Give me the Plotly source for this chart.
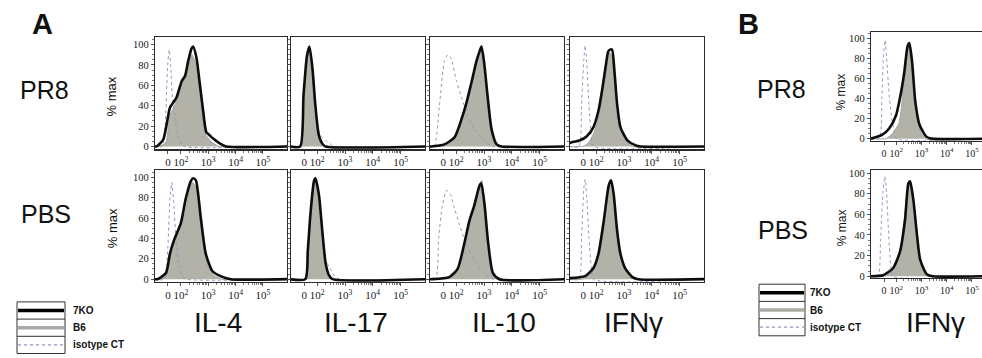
import plotly.graph_objects as go

W, H = 982, 358

# ---------------- data (x in display decades: 2 = 10^2, 3 = 10^3 ...; y = % max) ----------------
tick_vals_a = [1.53, 2, 3, 4, 5]
tick_vals_b = [1.52, 2, 3, 4, 5]
tick_text = ["0", "10<sup>2</sup>", "10<sup>3</sup>", "10<sup>4</sup>", "10<sup>5</sup>"]
y_ticks = [0, 20, 40, 60, 80, 100]
markers = ["IL-4", "IL-17", "IL-10", "IFNγ"]
groups = ["PR8", "PBS"]
legend_names = ["7KO", "B6", "isotype CT"]

# IL-4 PR8
il4_pr8_ko_x = [1.0, 1.12, 1.36, 1.6, 1.72, 1.84, 2.03, 2.15, 2.27, 2.39, 2.45, 2.57, 2.69, 2.81, 2.93, 3.05, 3.17, 3.42, 3.66, 5.9]
il4_pr8_ko_y = [0, 0, 7, 38, 43, 48, 64, 69, 84, 96, 98, 87, 62, 36, 14, 11, 8, 3, 0, 0]
il4_pr8_b6_x = [1.0, 1.2, 1.45, 1.6, 1.8, 2.0, 2.2, 2.3, 2.4, 2.5, 2.6, 2.7, 2.8, 2.9, 3.1, 3.4, 5.9]
il4_pr8_b6_y = [0, 0, 4, 30, 42, 58, 70, 80, 90, 85, 70, 50, 28, 12, 5, 0, 0]
il4_pr8_iso_x = [1.0, 1.3, 1.42, 1.52, 1.575, 1.63, 1.7, 1.8, 1.9, 2.0, 2.1, 5.9]
il4_pr8_iso_y = [0, 0, 20, 80, 95, 78, 45, 25, 10, 3, 0, 0]

# IL-4 PBS
il4_pbs_ko_x = [1.0, 1.15, 1.455, 1.6, 1.76, 2.0, 2.18, 2.36, 2.45, 2.55, 2.73, 2.91, 3.15, 3.45, 3.82, 5.9]
il4_pbs_ko_y = [0, 0, 6, 25, 39, 55, 79, 96, 99, 97, 60, 25, 8, 3, 0, 0]
il4_pbs_b6_x = [1.0, 1.2, 1.45, 1.6, 1.8, 2.0, 2.15, 2.3, 2.42, 2.55, 2.7, 2.85, 3.0, 3.2, 3.5, 5.9]
il4_pbs_b6_y = [0, 0, 3, 20, 38, 55, 65, 85, 95, 90, 60, 30, 12, 4, 0, 0]
il4_pbs_iso_x = [1.0, 1.4, 1.52, 1.6, 1.67, 1.74, 1.82, 1.92, 2.05, 2.2, 5.9]
il4_pbs_iso_y = [0, 0, 30, 80, 95, 75, 40, 15, 3, 0, 0]

# IL-17 PR8
il17_pr8_ko_x = [1.0, 1.385, 1.505, 1.63, 1.72, 1.83, 1.93, 2.05, 2.175, 2.3, 5.9]
il17_pr8_ko_y = [0, 0, 50, 89, 98, 76, 41, 12, 3, 0, 0]
il17_pr8_b6_x = [1.0, 1.4, 1.51, 1.63, 1.71, 1.81, 1.93, 2.03, 2.13, 2.23, 5.9]
il17_pr8_b6_y = [0, 0, 45, 85, 95, 75, 38, 12, 3, 0, 0]
il17_pr8_iso_x = [1.0, 1.4, 1.51, 1.63, 1.72, 1.83, 1.93, 2.03, 2.11, 2.3, 2.45, 2.6, 5.9]
il17_pr8_iso_y = [0, 0, 45, 86, 96, 72, 38, 18, 11, 6, 3, 0, 0]

# IL-17 PBS
il17_pbs_ko_x = [1.0, 1.57, 1.66, 1.755, 1.88, 1.935, 2.06, 2.18, 2.30, 2.42, 2.55, 5.9]
il17_pbs_ko_y = [0, 0, 28, 64, 96, 99, 83, 48, 16, 4, 0, 0]
il17_pbs_b6_x = [1.0, 1.59, 1.68, 1.77, 1.88, 1.93, 2.05, 2.17, 2.28, 2.4, 2.52, 5.9]
il17_pbs_b6_y = [0, 0, 25, 62, 93, 96, 80, 45, 14, 3, 0, 0]
il17_pbs_iso_x = [1.0, 1.57, 1.66, 1.755, 1.88, 1.935, 2.06, 2.18, 2.3, 2.42, 2.55, 2.66, 2.8, 5.9]
il17_pbs_iso_y = [0, 0, 28, 64, 96, 99, 83, 48, 18, 13, 6, 2, 0, 0]

# IL-10 PR8
il10_pr8_ko_x = [1.0, 1.09, 1.575, 1.94, 2.18, 2.36, 2.55, 2.73, 2.85, 2.91, 3.01, 3.13, 3.27, 3.455, 3.64, 5.9]
il10_pr8_ko_y = [0, 0, 2, 9, 26, 42, 63, 84, 94, 98, 81, 49, 17, 2, 0, 0]
il10_pr8_b6_x = [1.0, 1.3, 1.6, 1.94, 2.1, 2.3, 2.5, 2.7, 2.85, 2.92, 3.0, 3.12, 3.25, 3.4, 3.55, 5.9]
il10_pr8_b6_y = [0, 0, 2, 8, 14, 35, 58, 80, 92, 96, 82, 50, 18, 4, 0, 0]
il10_pr8_iso_x = [1.0, 1.21, 1.39, 1.575, 1.70, 1.82, 2.0, 2.18, 2.3, 2.5, 2.7, 2.9, 3.1, 3.3, 5.9]
il10_pr8_iso_y = [0, 0, 39, 84, 90, 86, 65, 49, 39, 25, 15, 8, 3, 0, 0]

# IL-10 PBS
il10_pbs_ko_x = [1.0, 1.14, 1.745, 2.05, 2.29, 2.47, 2.655, 2.84, 2.90, 3.02, 3.14, 3.32, 3.565, 5.9]
il10_pbs_ko_y = [0, 0, 2, 10, 35, 57, 73, 92, 94, 73, 38, 6, 0, 0]
il10_pbs_b6_x = [1.0, 1.3, 1.75, 2.1, 2.3, 2.5, 2.7, 2.85, 2.92, 3.02, 3.15, 3.3, 3.45, 5.9]
il10_pbs_b6_y = [0, 0, 2, 8, 30, 55, 75, 93, 97, 75, 38, 8, 0, 0]
il10_pbs_iso_x = [1.0, 1.26, 1.37, 1.5, 1.65, 1.78, 1.93, 2.11, 2.35, 2.59, 2.84, 3.14, 3.35, 5.9]
il10_pbs_iso_y = [0, 0, 41, 72, 87, 84, 70, 54, 35, 22, 11, 3, 0, 0]

# IFNg PR8 (A)
ifng_pr8_ko_x = [1.0, 1.12, 1.42, 1.66, 1.90, 2.08, 2.21, 2.33, 2.43, 2.5, 2.57, 2.655, 2.75, 2.87, 3.12, 3.42, 3.6, 5.9]
ifng_pr8_ko_y = [3, 4, 6, 10, 19, 35, 55, 77, 93, 95, 95, 74, 42, 19, 6, 1, 0, 0]
ifng_pr8_b6_x = [1.0, 1.5, 1.7, 1.9, 2.1, 2.25, 2.4, 2.5, 2.6, 2.7, 2.8, 2.95, 3.1, 3.3, 5.9]
ifng_pr8_b6_y = [0, 0, 3, 12, 30, 55, 82, 92, 85, 55, 30, 12, 5, 0, 0]
ifng_pr8_iso_x = [1.0, 1.38, 1.47, 1.55, 1.6, 1.66, 1.74, 1.82, 1.9, 5.9]
ifng_pr8_iso_y = [0, 0, 40, 85, 99, 80, 40, 10, 0, 0]

# IFNg PBS (A)
ifng_pbs_ko_x = [1.0, 1.055, 1.6, 1.90, 2.08, 2.27, 2.45, 2.535, 2.63, 2.75, 2.87, 3.055, 3.30, 3.5, 5.9]
ifng_pbs_ko_y = [1, 1, 3, 11, 25, 57, 92, 97, 83, 48, 25, 10, 2, 0, 0]
ifng_pbs_b6_x = [1.0, 1.5, 1.7, 1.9, 2.1, 2.27, 2.45, 2.52, 2.62, 2.75, 2.87, 3.0, 3.2, 3.4, 5.9]
ifng_pbs_b6_y = [0, 0, 3, 9, 22, 55, 90, 95, 82, 46, 22, 10, 2, 0, 0]
ifng_pbs_iso_x = [1.0, 1.38, 1.47, 1.55, 1.6, 1.66, 1.74, 1.82, 1.9, 5.9]
ifng_pbs_iso_y = [0, 0, 40, 88, 98, 80, 40, 12, 0, 0]

# IFNg PR8 (B)
b_pr8_ko_x = [1.0, 1.455, 1.72, 1.99, 2.19, 2.32, 2.45, 2.52, 2.63, 2.76, 2.92, 3.19, 3.4, 5.5]
b_pr8_ko_y = [0, 4, 10, 23, 46, 66, 92, 95, 76, 36, 14, 2, 0, 0]
b_pr8_b6_x = [1.0, 1.6, 1.85, 2.1, 2.2, 2.3, 2.4, 2.5, 2.6, 2.7, 2.8, 2.95, 3.15, 5.5]
b_pr8_b6_y = [0, 0, 5, 15, 30, 60, 85, 93, 80, 50, 25, 8, 0, 0]
b_pr8_iso_x = [1.0, 1.33, 1.43, 1.5, 1.56, 1.62, 1.7, 1.8, 1.9, 2.0, 5.5]
b_pr8_iso_y = [0, 0, 40, 85, 98, 80, 50, 25, 8, 0, 0]

# IFNg PBS (B)
b_pbs_ko_x = [1.0, 1.48, 1.88, 2.15, 2.35, 2.48, 2.55, 2.68, 2.81, 2.95, 3.21, 3.45, 5.5]
b_pbs_ko_y = [0, 1, 8, 24, 55, 90, 92, 74, 43, 16, 2, 0, 0]
b_pbs_b6_x = [1.0, 1.5, 1.8, 2.1, 2.3, 2.45, 2.55, 2.68, 2.8, 2.95, 3.2, 3.4, 5.5]
b_pbs_b6_y = [0, 0, 4, 18, 50, 85, 90, 72, 42, 15, 2, 0, 0]
b_pbs_iso_x = [1.0, 1.28, 1.38, 1.47, 1.55, 1.62, 1.7, 1.78, 1.85, 5.5]
b_pbs_iso_y = [0, 0, 35, 80, 97, 80, 40, 10, 0, 0]

# ---------------- layout helpers ----------------
def px(x):
    return x / W

def py(y):
    return 1 - y / H

COL_A = [(155, 287), (291, 425), (430, 564), (570, 704)]
ROW_A = [(36, 150), (171, 285)]
COL_B = (871, 982)
ROW_B = [(31, 141), (171, 281)]

panels = [
    (COL_A[0], ROW_A[0], [1.055, 5.88], [-3, 107], tick_vals_a, True, True,
     (il4_pr8_ko_x, il4_pr8_ko_y, il4_pr8_b6_x, il4_pr8_b6_y, il4_pr8_iso_x, il4_pr8_iso_y)),
    (COL_A[1], ROW_A[0], [1.055, 5.88], [-3, 107], tick_vals_a, False, True,
     (il17_pr8_ko_x, il17_pr8_ko_y, il17_pr8_b6_x, il17_pr8_b6_y, il17_pr8_iso_x, il17_pr8_iso_y)),
    (COL_A[2], ROW_A[0], [1.055, 5.88], [-3, 107], tick_vals_a, False, True,
     (il10_pr8_ko_x, il10_pr8_ko_y, il10_pr8_b6_x, il10_pr8_b6_y, il10_pr8_iso_x, il10_pr8_iso_y)),
    (COL_A[3], ROW_A[0], [1.055, 5.88], [-3, 107], tick_vals_a, False, True,
     (ifng_pr8_ko_x, ifng_pr8_ko_y, ifng_pr8_b6_x, ifng_pr8_b6_y, ifng_pr8_iso_x, ifng_pr8_iso_y)),
    (COL_A[0], ROW_A[1], [1.055, 5.88], [-3, 107], tick_vals_a, True, True,
     (il4_pbs_ko_x, il4_pbs_ko_y, il4_pbs_b6_x, il4_pbs_b6_y, il4_pbs_iso_x, il4_pbs_iso_y)),
    (COL_A[1], ROW_A[1], [1.055, 5.88], [-3, 107], tick_vals_a, False, True,
     (il17_pbs_ko_x, il17_pbs_ko_y, il17_pbs_b6_x, il17_pbs_b6_y, il17_pbs_iso_x, il17_pbs_iso_y)),
    (COL_A[2], ROW_A[1], [1.055, 5.88], [-3, 107], tick_vals_a, False, True,
     (il10_pbs_ko_x, il10_pbs_ko_y, il10_pbs_b6_x, il10_pbs_b6_y, il10_pbs_iso_x, il10_pbs_iso_y)),
    (COL_A[3], ROW_A[1], [1.055, 5.88], [-3, 107], tick_vals_a, False, True,
     (ifng_pbs_ko_x, ifng_pbs_ko_y, ifng_pbs_b6_x, ifng_pbs_b6_y, ifng_pbs_iso_x, ifng_pbs_iso_y)),
    (COL_B, ROW_B[0], [1.0, 5.4], [-2, 105.6], tick_vals_b, True, False,
     (b_pr8_ko_x, b_pr8_ko_y, b_pr8_b6_x, b_pr8_b6_y, b_pr8_iso_x, b_pr8_iso_y)),
    (COL_B, ROW_B[1], [1.0, 5.4], [-2, 102.9], tick_vals_b, True, False,
     (b_pbs_ko_x, b_pbs_ko_y, b_pbs_b6_x, b_pbs_b6_y, b_pbs_iso_x, b_pbs_iso_y)),
]

KO_COLOR = "#0d0d0d"
B6_FILL = "rgb(178,178,168)"
B6_LINE = "rgb(165,165,158)"
ISO_COLOR = "rgb(150,150,190)"
FRAME = "#2a2a2a"
XTICKFONT_A = dict(family="Liberation Serif", size=11, color="#222")
XTICKFONT_B = dict(family="Liberation Serif", size=10, color="#222")
YTICKFONT = dict(family="Liberation Serif", size=10.5, color="#222")
LABEL_DROP = 5  # px between the frame and the tick-label axis

minor_x = [d + v for d in (2, 3, 4) for v in (0.301, 0.477, 0.602, 0.699, 0.778, 0.845, 0.903, 0.954)]

fig = go.Figure()
layout = {}
npan = len(panels)
for i, (xd, yd, xr, yr, tv, show_y, right_border, c) in enumerate(panels):
    n = "" if i == 0 else str(i + 1)
    nl = str(i + 1 + npan)
    ko_x, ko_y, b6_x, b6_y, iso_x, iso_y = c
    xa, ya = "x" + n, "y" + n
    fig.add_trace(go.Scatter(x=b6_x, y=b6_y, mode="lines", line=dict(color=B6_LINE, width=1, shape="spline", smoothing=0.6),
                             fill="tozeroy", fillcolor=B6_FILL, xaxis=xa, yaxis=ya, showlegend=False, hoverinfo="skip"))
    fig.add_trace(go.Scatter(x=iso_x, y=iso_y, mode="lines", line=dict(color=ISO_COLOR, width=1, dash="dot", shape="spline", smoothing=0.6),
                             xaxis=xa, yaxis=ya, showlegend=False, hoverinfo="skip"))
    fig.add_trace(go.Scatter(x=ko_x, y=ko_y, mode="lines", line=dict(color=KO_COLOR, width=2.6, shape="spline", smoothing=0.6),
                             xaxis=xa, yaxis=ya, showlegend=False, hoverinfo="skip"))
    # invisible trace so the label axis is drawn
    fig.add_trace(go.Scatter(x=[xr[0]], y=[yr[0]], mode="markers", marker=dict(opacity=0), xaxis="x" + nl, yaxis=ya,
                             showlegend=False, hoverinfo="skip"))
    layout["xaxis" + n] = dict(
        domain=[px(xd[0]), px(xd[1])], range=xr, anchor=ya,
        showline=True, linecolor=FRAME, linewidth=1.2, mirror=True,
        ticks="outside", ticklen=3, tickcolor="#555", tickwidth=1,
        tickmode="array", tickvals=tv, showticklabels=False,
        showgrid=False, zeroline=False, fixedrange=True,
        minor=dict(tickmode="array", tickvals=minor_x, ticks="outside", ticklen=2, tickcolor="#777"),
    )
    # tick-label axis placed a few pixels below the frame
    layout["xaxis" + nl] = dict(
        domain=[px(xd[0]), px(xd[1])], range=xr, anchor="free", overlaying=xa,
        position=py(yd[1] + LABEL_DROP), side="bottom", tickangle=0,
        showline=False, ticks="", tickmode="array", tickvals=tv, ticktext=tick_text,
        tickfont=XTICKFONT_B if i >= 8 else XTICKFONT_A,
        showgrid=False, zeroline=False, fixedrange=True,
    )
    layout["yaxis" + n] = dict(
        domain=[py(yd[1]), py(yd[0])], range=yr, anchor=xa,
        showline=True, linecolor=FRAME, linewidth=1.2, mirror=right_border,
        ticks="outside", ticklen=3, tickcolor="#555", tickwidth=1,
        tickmode="array", tickvals=y_ticks, showticklabels=show_y, tickfont=YTICKFONT,
        showgrid=False, zeroline=False, fixedrange=True,
        minor=dict(dtick=5, ticks="outside", ticklen=1.5, tickcolor="#777"),
    )

ann = []
def text(x, y, t, size, bold=False, angle=0, xanchor="center", color="#111"):
    ann.append(dict(x=px(x), y=py(y), xref="paper", yref="paper", text=("<b>%s</b>" % t) if bold else t,
                    showarrow=False, xanchor=xanchor, yanchor="middle", textangle=angle,
                    font=dict(family="Liberation Sans, Arial", size=size, color=color)))

text(42, 22, "A", 29, bold=True)
text(748, 22, "B", 29, bold=True)
text(44, 90, groups[0], 25)
text(46, 216, groups[1], 25)
text(781, 88, groups[0], 25)
text(783, 232, groups[1], 25)
text(111, 96, "% max", 13, angle=-90)
text(112, 230, "% max", 13, angle=-90)
text(841, 92, "% max", 12, angle=-90)
text(842, 230, "% max", 12, angle=-90)
for (x, lab) in zip([218, 356, 504, 633], markers):
    text(x, 326, lab, 28)
text(935, 326, markers[3], 28)

# legends drawn as boxed key
shapes = []
def legend_box(x0, x1, ytop, row_h, tx):
    shapes.append(dict(type="rect", xref="paper", yref="paper", x0=px(x0), x1=px(x1),
                       y0=py(ytop + 3 * row_h), y1=py(ytop), line=dict(color="#333", width=1)))
    for k in (1, 2):
        shapes.append(dict(type="line", xref="paper", yref="paper", x0=px(x0), x1=px(x1),
                           y0=py(ytop + k * row_h), y1=py(ytop + k * row_h), line=dict(color="#333", width=1)))
    styles = [dict(color="#000", width=3.5), dict(color="rgb(170,170,165)", width=3.5), dict(color=ISO_COLOR, width=1.3, dash="dot")]
    for k, st in enumerate(styles):
        yc = ytop + (k + 0.5) * row_h
        shapes.append(dict(type="line", xref="paper", yref="paper", x0=px(x0 + 1), x1=px(x1 - 1),
                           y0=py(yc), y1=py(yc), line=st))
        ann.append(dict(x=px(tx), y=py(yc), xref="paper", yref="paper", text="<b>%s</b>" % legend_names[k],
                        showarrow=False, xanchor="left", yanchor="middle",
                        font=dict(family="Liberation Sans, Arial", size=10, color="#111")))

legend_box(17, 65, 305, 17.5, 71)
legend_box(759, 805, 287, 17.5, 808)

fig.update_layout(width=W, height=H, margin=dict(l=0, r=0, t=0, b=0), paper_bgcolor="white",
                  plot_bgcolor="white", annotations=ann, shapes=shapes, showlegend=False, **layout)
fig.write_html("out.html", config={"displayModeBar": False, "staticPlot": True},
               post_script="document.body.style.margin='0';document.body.style.overflow='hidden';")
